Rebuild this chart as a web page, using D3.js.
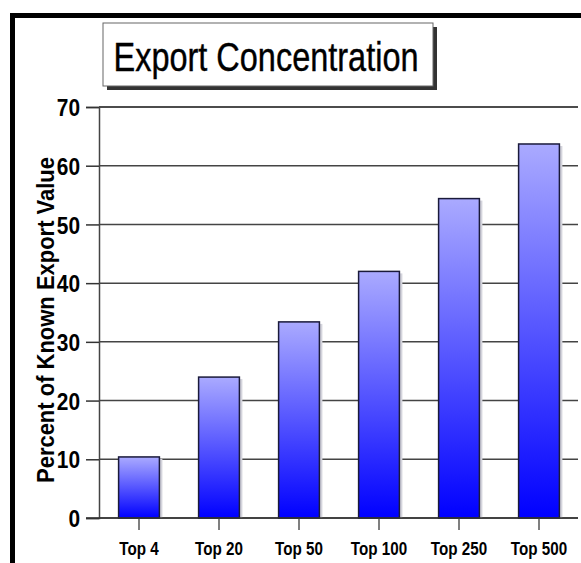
<!DOCTYPE html>
<html><head><meta charset="utf-8">
<script src="https://cdn.jsdelivr.net/npm/d3@7/dist/d3.min.js"></script>
<style>body{margin:0;background:#fff}svg{display:block}text{font-family:"Liberation Sans",Arial,sans-serif}</style>
</head><body>
<svg id="c" width="581" height="563"></svg>
<script>
const categories = ["Top 4","Top 20","Top 50","Top 100","Top 250","Top 500"];
const values = [10.4, 24.0, 33.4, 42.0, 54.4, 63.7];
const yTicks = [0,10,20,30,40,50,60,70];
const titleText = "Export Concentration";
const yTitle = "Percent of Known Export Value";

const svg = d3.select("#c");
const W = 581, H = 563;
const pLeft = 99, pRight = 579, pTop = 107, pBottom = 518;

function fit(sel, factor){
  sel.each(function(){
    const w = this.getComputedTextLength();
    d3.select(this).attr("textLength", w*factor).attr("lengthAdjust","spacingAndGlyphs");
  });
}

// gradient
const defs = svg.append("defs");
const g = defs.append("linearGradient").attr("id","bg").attr("x1",0).attr("y1",0).attr("x2",0).attr("y2",1);
g.append("stop").attr("offset","0%").attr("stop-color","#aaaaff");
g.append("stop").attr("offset","100%").attr("stop-color","#0000ff");

// frame
svg.append("path").attr("d",`M12.5,${H} L12.5,15.5 L${W},15.5`).attr("fill","none").attr("stroke","#000").attr("stroke-width",5);

// title box
svg.append("rect").attr("x",107).attr("y",27).attr("width",330).attr("height",63).attr("fill","#333");
svg.append("rect").attr("x",103).attr("y",23).attr("width",330).attr("height",63).attr("fill","#fff").attr("stroke","#666").attr("stroke-width",1);
const tt = svg.append("text").attr("x",266).attr("y",71).attr("text-anchor","middle")
  .attr("font-size",40).attr("fill","#000").attr("stroke","#000").attr("stroke-width",0.4).text(titleText);
tt.attr("textLength",305).attr("lengthAdjust","spacingAndGlyphs");

const x = d3.scaleBand().domain(categories).range([pLeft, pRight]).paddingInner(0.49).paddingOuter(0.245);
const y = d3.scaleLinear().domain([0,70]).range([pBottom, pTop]);

// grid
svg.append("g").selectAll("line").data(yTicks).join("line")
  .attr("x1",pLeft).attr("x2",578).attr("y1",d=>y(d)).attr("y2",d=>y(d))
  .attr("stroke",d=>d===70?"#111":"#444").attr("stroke-width",1.5);

// y axis
const ya = svg.append("g").attr("transform",`translate(${pLeft},0)`)
  .call(d3.axisLeft(y).tickValues(yTicks).tickSize(13).tickPadding(6));
ya.select(".domain").attr("stroke","#444").attr("stroke-width",1.5);
ya.selectAll(".tick line").attr("stroke","#333").attr("stroke-width",1.5);
ya.selectAll(".tick text").attr("font-size",24).attr("font-weight","bold").attr("fill","#000")
  .attr("font-family",'"Liberation Sans",Arial,sans-serif').attr("dy","0.36em");
fit(ya.selectAll(".tick text"),0.87);

// bars shadow
svg.append("g").selectAll("rect").data(values).join("rect")
  .attr("x",(d,i)=>x(categories[i])+3).attr("y",d=>y(d)+2)
  .attr("width",x.bandwidth()).attr("height",d=>pBottom-y(d)-2).attr("fill","#d4d4dc");
// bars
svg.append("g").selectAll("rect").data(values).join("rect")
  .attr("x",(d,i)=>x(categories[i])).attr("y",d=>y(d))
  .attr("width",x.bandwidth()).attr("height",d=>pBottom-y(d))
  .attr("fill","url(#bg)").attr("stroke","#1a1a3a").attr("stroke-width",1.5);

// x axis
const xa = svg.append("g").attr("transform",`translate(0,${pBottom})`)
  .call(d3.axisBottom(x).tickSize(12).tickPadding(12));
xa.select(".domain").remove();
xa.selectAll(".tick line").attr("stroke","#555").attr("stroke-width",1.5);
xa.selectAll(".tick text").attr("font-size",19).attr("font-weight","bold").attr("fill","#000")
  .attr("font-family",'"Liberation Sans",Arial,sans-serif').attr("dy","0.71em");
fit(xa.selectAll(".tick text"),0.8);
svg.append("line").attr("x1",86).attr("x2",578).attr("y1",pBottom).attr("y2",pBottom).attr("stroke","#333").attr("stroke-width",1.5);

// y title
const yt = svg.append("text").attr("transform",`translate(54,320) rotate(-90)`).attr("text-anchor","middle")
  .attr("font-size",23).attr("font-weight","bold").attr("fill","#000").text(yTitle);
yt.attr("textLength",326).attr("lengthAdjust","spacingAndGlyphs");
</script>
</body></html>
